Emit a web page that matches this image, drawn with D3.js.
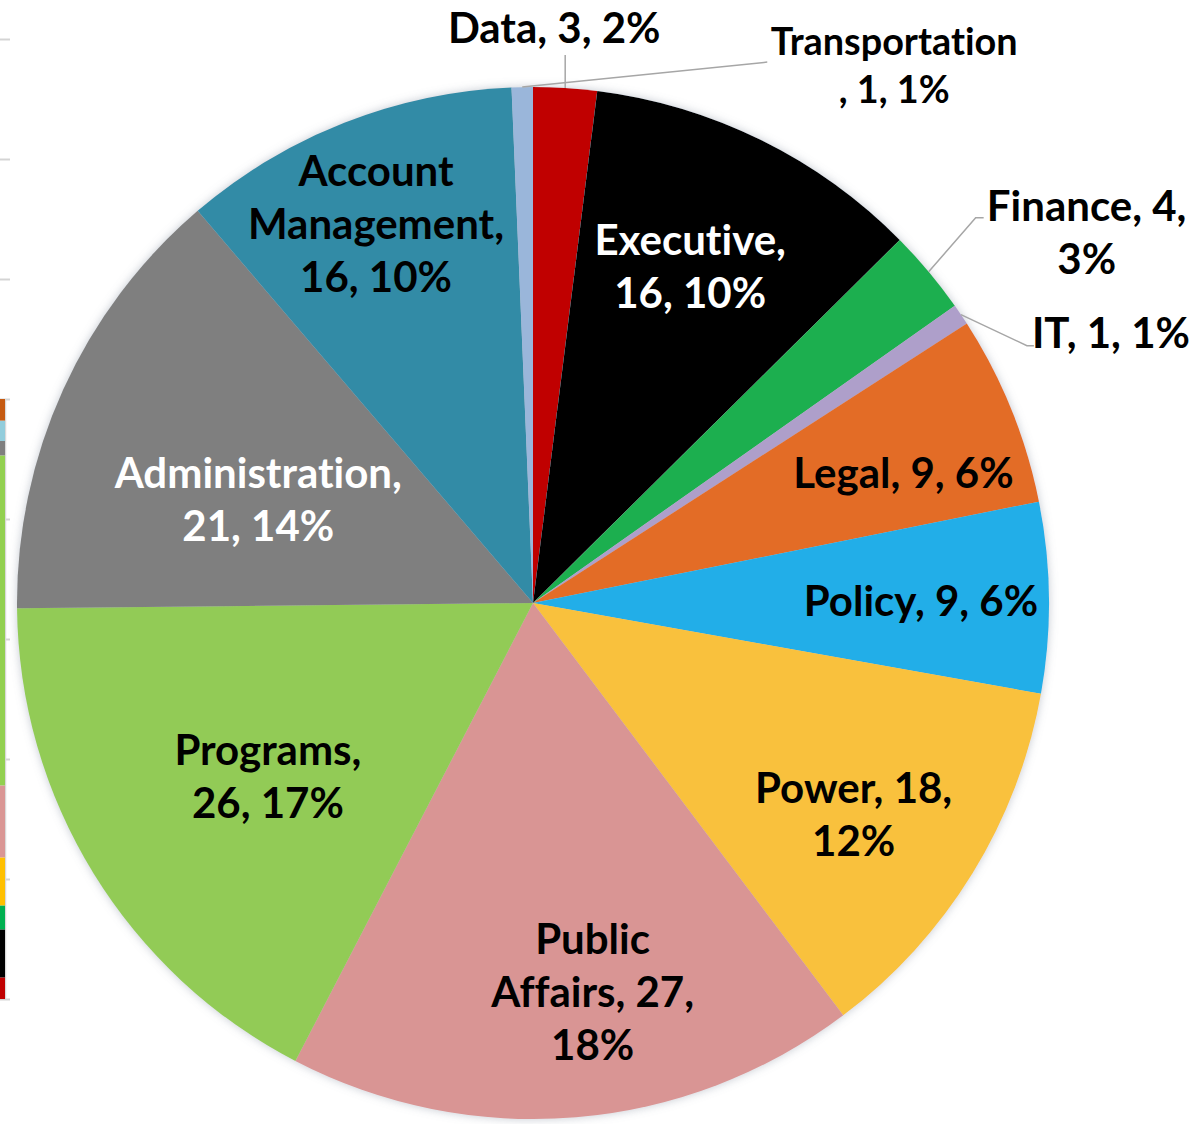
<!DOCTYPE html>
<html>
<head>
<meta charset="utf-8">
<script src="https://cdn.jsdelivr.net/npm/d3@7"></script>
<style>
  html, body { margin: 0; padding: 0; background: #fff; }
  svg { display: block; }
  .lbl {
    font-family: Lato, "Open Sans", sans-serif;
    font-weight: 700;
    font-variant-ligatures: none;
    font-feature-settings: "liga" 0, "clig" 0;
  }
</style>
</head>
<body>
<div id="chart"></div>
<script>
// slices, clockwise from 12 o'clock
const departments = ["Data", "Executive", "Finance", "IT", "Legal", "Policy", "Power",
  "Public Affairs", "Programs", "Administration", "Account Management", "Transportation"];
const headcount = [3, 16, 4, 1, 9, 9, 18, 27, 26, 21, 16, 1];
const percentLabels = ["2%", "10%", "3%", "1%", "6%", "6%", "12%", "18%", "17%", "14%", "10%", "1%"];

// cut-off stacked bar of the neighbouring chart at the left edge (bottom to top)
const stripParts = ["Data", "Executive", "Finance", "Power", "Public Affairs", "Programs",
  "Administration", "Transportation", "Legal"];
const stripValues = [0.18, 0.4, 0.2, 0.4, 0.6, 2.75, 0.12, 0.17, 0.18];
const stripTicks = [0, 1, 2, 3, 4, 5, 6, 7, 8];

const colors = {
  "Data": "#C00000", "Executive": "#000000", "Finance": "#1DAF4F", "IT": "#AE9FCA",
  "Legal": "#E36C25", "Policy": "#20AEE8", "Power": "#F9C13C", "Public Affairs": "#D99594",
  "Programs": "#92CB56", "Administration": "#7F7F7F", "Account Management": "#338BA6",
  "Transportation": "#9AB6DA"
};
const stripColors = ["#C00000", "#000000", "#00B050", "#FFC000", "#DA9694", "#92D050",
  "#7F7F7F", "#92CDDC", "#C55A11"];

// label placement: f = fraction of radius along the slice middle, then a nudge
const labelLayout = {
  "Data":               { f: 1,    dx: -11, dy: -60, tpl: "{n}, {v}, {p}", lead: [[11, 27]] },
  "Executive":          { f: 0.72, dx: -7,  dy: -3,  tpl: "{n},|{v}, {p}", fill: "#fff" },
  "Finance":            { f: 1,    dx: 158, dy: -39, tpl: "{n}, {v},|{p}", lead: [[-111, -15], [-103, -15]] },
  "IT":                 { f: 1,    dx: 150, dy: 19,  tpl: "{n}, {v}, {p}", lead: [[-84, 12], [-77, 12]] },
  "Legal":              { f: 0.76, dx: 7,   dy: 18,  tpl: "{n}, {v}, {p}" },
  "Policy":             { f: 0.75, dx: 1,   dy: 2,   tpl: "{n}, {v}, {p}" },
  "Power":              { f: 0.75, dx: -9,  dy: 9,   tpl: "{n}, {v},|{p}" },
  "Public Affairs":     { f: 0.76, dx: 27,  dy: -2,  tpl: "{n}, {v},|{p}", wrapName: true },
  "Programs":           { f: 0.61, dx: 3,   dy: 9,   tpl: "{n},|{v}, {p}" },
  "Administration":     { f: 0.57, dx: -7,  dy: 18,  tpl: "{n},|{v}, {p}", fill: "#fff" },
  "Account Management": { f: 0.80, dx: -6,  dy: 5,   tpl: "{n},|{v}, {p}", wrapName: true },
  "Transportation":     { f: 1,    dx: 372, dy: -21, tpl: "{n}|, {v}, {p}", lead: [[-127, -4]], size: 0.9, lh: 48 }
};

const W = 1191, H = 1124;
const cx = 533, cy = 603, R = 516;
const fontSize = 42, lineH = 53;

const svg = d3.select("#chart").append("svg")
  .attr("width", W)
  .attr("height", H);

const filter = svg.append("defs").append("filter")
  .attr("id", "soft")
  .attr("x", "-10%").attr("y", "-10%").attr("width", "120%").attr("height", "120%");
filter.append("feGaussianBlur").attr("in", "SourceAlpha").attr("stdDeviation", 5).attr("result", "b");
filter.append("feFlood").attr("flood-color", "#7d8899").attr("flood-opacity", 0.45);
filter.append("feComposite").attr("in2", "b").attr("operator", "in");
const merge = filter.append("feMerge");
merge.append("feMergeNode");
merge.append("feMergeNode").attr("in", "SourceGraphic");

// left edge strip
const stripY = d3.scaleLinear().domain([0, 8]).range([999, 39]);
svg.append("g")
  .call(d3.axisRight(stripY).tickValues(stripTicks).tickSize(10).tickFormat(""))
  .call(g => g.select(".domain").remove())
  .call(g => g.selectAll("line").attr("stroke", "#d4d4d4").attr("stroke-width", 2));
let acc = 0;
const stripData = stripValues.map((v, i) => {
  const d = { name: stripParts[i], y0: acc, y1: acc + v, color: stripColors[i] };
  acc += v;
  return d;
});
svg.append("line")
  .attr("x1", 5.5).attr("x2", 5.5)
  .attr("y1", stripY(acc)).attr("y2", stripY(0))
  .attr("stroke", "#d9d9d9").attr("stroke-width", 1.5);
svg.append("g").selectAll("rect")
  .data(stripData)
  .join("rect")
    .attr("x", 0)
    .attr("y", d => stripY(d.y1))
    .attr("width", 5)
    .attr("height", d => stripY(d.y0) - stripY(d.y1))
    .attr("fill", d => d.color);

// pie
const data = departments.map((name, i) => ({ name, value: headcount[i], pct: percentLabels[i] }));
const pie = d3.pie().sort(null).value(d => d.value);
const arcs = pie(data);
const arc = d3.arc().innerRadius(0).outerRadius(R);

const g = svg.append("g").attr("transform", `translate(${cx},${cy})`);
g.append("g")
  .attr("filter", "url(#soft)")
  .selectAll("path")
  .data(arcs)
  .join("path")
    .attr("d", arc)
    .attr("fill", d => colors[d.data.name]);

const polar = (a, r) => [r * Math.sin(a), -r * Math.cos(a)];
const midAngle = d => (d.startAngle + d.endAngle) / 2;

arcs.forEach(d => {
  const L = labelLayout[d.data.name];
  const p = polar(midAngle(d), R * L.f);
  const x = p[0] + L.dx, y = p[1] + L.dy;

  if (L.lead) {
    const edge = polar(midAngle(d), R);
    const pts = [edge].concat(L.lead.map(o => [x + o[0], y + o[1]]));
    g.append("path")
      .attr("d", d3.line()(pts))
      .attr("fill", "none")
      .attr("stroke", "#a6a6a6")
      .attr("stroke-width", 1.5);
  }

  const name = L.wrapName ? d.data.name.replace(" ", "|") : d.data.name;
  const lines = L.tpl.replace("{n}", name).replace("{v}", d.data.value).replace("{p}", d.data.pct).split("|");
  const fs = fontSize * (L.size || 1);
  const lh = L.lh || lineH;
  const text = g.append("text")
    .attr("class", "lbl")
    .attr("text-anchor", "middle")
    .attr("font-size", fs)
    .attr("fill", L.fill || "#000");
  lines.forEach((s, i) => {
    text.append("tspan")
      .attr("x", x)
      .attr("y", y + (i - (lines.length - 1) / 2) * lh + fs * 0.35)
      .text(s);
  });
});
</script>
</body>
</html>
